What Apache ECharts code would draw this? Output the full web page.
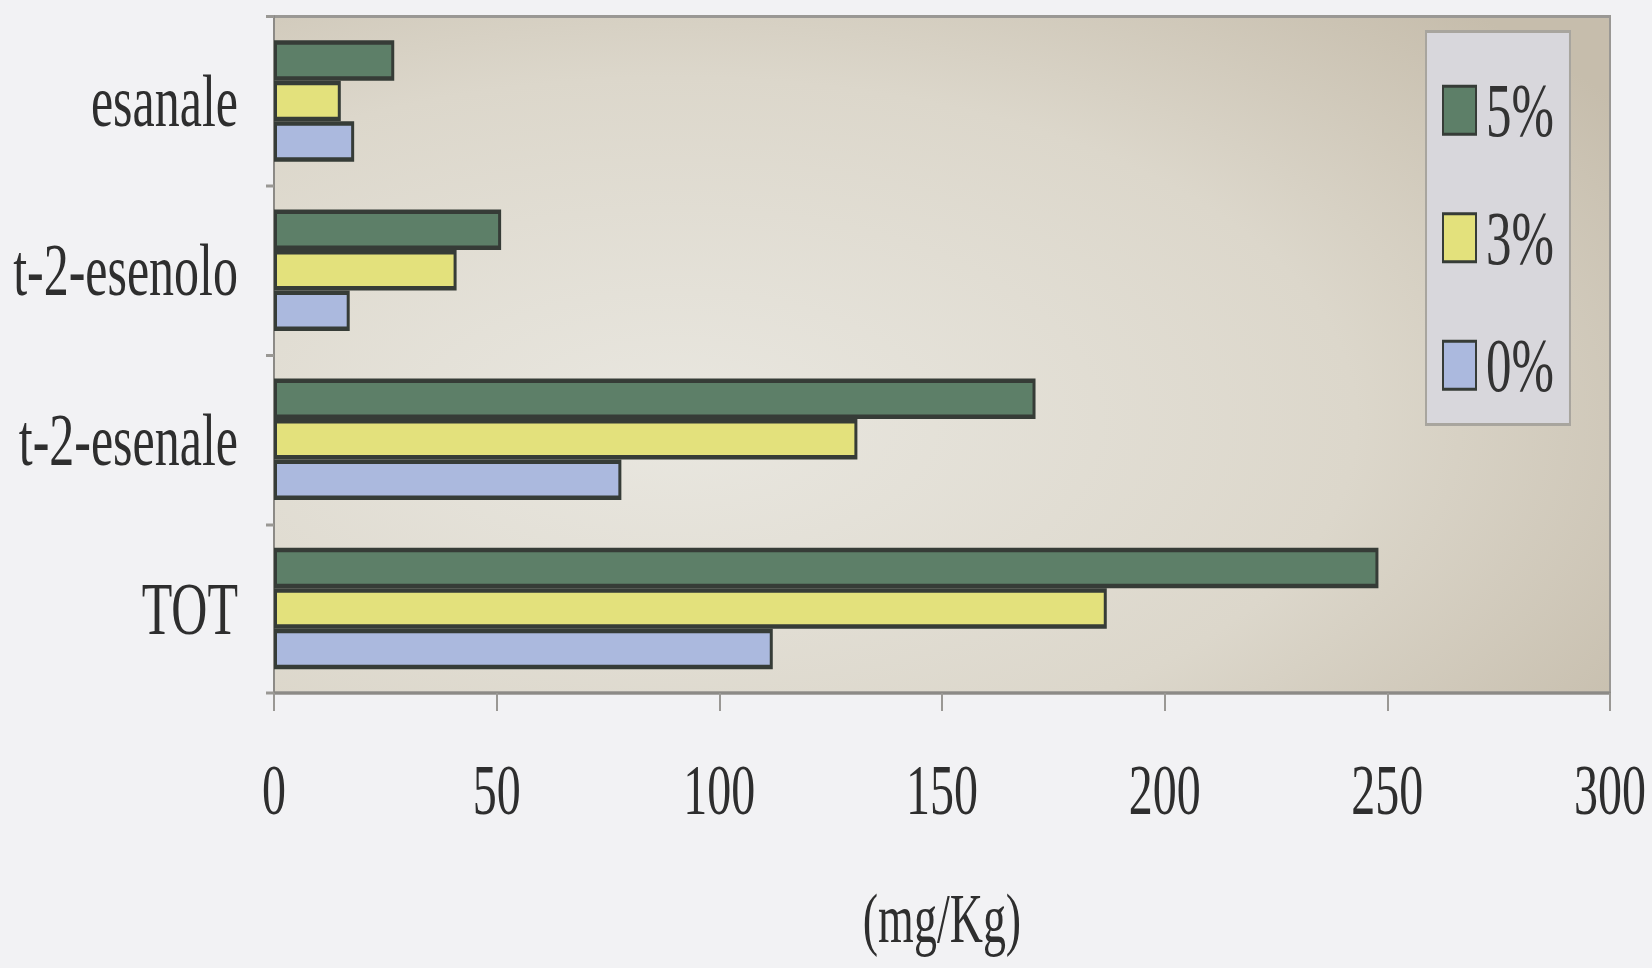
<!DOCTYPE html>
<html>
<head>
<meta charset="utf-8">
<script src="https://cdn.jsdelivr.net/npm/echarts@6/dist/echarts.min.js"></script>
<style>
    html { overflow: hidden; background: #f2f2f4; }
    body { margin: 0; padding: 0; height: 968px; background: #f2f2f4; }
    /* the original picture is stretched vertically, so the chart is drawn flat and scaled */
    #chart { width: 1652px; height: 645px; transform: scaleY(1.5); transform-origin: 0 0; }
</style>
</head>
<body>
<div id="chart"></div>
<script>
const categories = ['esanale', 't-2-esenolo', 't-2-esenale', 'TOT']
const seriesNames = ['5%', '3%', '0%']
const values5 = [27, 51, 171, 248]
const values3 = [15, 41, 131, 187]
const values0 = [18, 17, 78, 112]
const xTicks = [0, 300, 50]

const colors = ['#5d7f68', '#e3e17c', '#abb9de']
const font = 'Liberation Serif'

const chart = echarts.init(document.getElementById('chart'), null, { renderer: 'svg' })
const makeSeries = (name, data, color) => ({
    name,
    type: 'bar',
    data,
    barWidth: 27,
    barGap: '0%',
    itemStyle: { color, borderColor: '#363c37', borderWidth: 3 }
})

chart.setOption({
    backgroundColor: '#f2f2f4',
    animation: false,
    grid: {
        left: 274, right: 42, top: 11, bottom: 183,
        show: true,
        borderColor: '#9a9894',
        borderWidth: 2,
        backgroundColor: {
            type: 'radial', x: 0.3, y: 0.6, r: 0.85,
            colorStops: [
                { offset: 0, color: '#e9e7e0' },
                { offset: 0.6, color: '#dcd7cb' },
                { offset: 1, color: '#c6bdac' }
            ]
        }
    },
    legend: {
        orient: 'vertical',
        left: 1426,
        top: 21,
        data: seriesNames,
        icon: 'rect',
        itemWidth: 33,
        itemHeight: 32,
        itemGap: 34,
        padding: [27, 16, 14, 16],
        backgroundColor: '#d8d7dc',
        borderColor: '#a8a59e',
        borderWidth: 2,
        textStyle: { fontFamily: font, fontSize: 51, color: '#333', lineHeight: 50, padding: [0, 0, 0, 5] }
    },
    xAxis: {
        type: 'value',
        min: xTicks[0],
        max: xTicks[1],
        interval: xTicks[2],
        name: '(mg/Kg)',
        nameLocation: 'middle',
        nameGap: 128,
        nameTextStyle: { fontFamily: font, fontSize: 46, color: '#2e2e2e' },
        axisLine: { show: true, lineStyle: { color: '#8c8a86', width: 2 } },
        axisTick: { show: true, length: 12, lineStyle: { color: '#9a9894', width: 2 } },
        axisLabel: { fontFamily: font, fontSize: 48, color: '#2e2e2e', margin: 40 },
        splitLine: { show: false }
    },
    yAxis: {
        type: 'category',
        data: categories,
        inverse: true,
        axisLine: { show: true, lineStyle: { color: '#8c8a86', width: 2 } },
        axisTick: { show: true, length: 8, lineStyle: { color: '#9a9894', width: 2 } },
        axisLabel: { fontFamily: font, fontSize: 50, color: '#2e2e2e', margin: 36, padding: [0, 0, 22, 0] }
    },
    series: [
        makeSeries(seriesNames[0], values5, colors[0]),
        makeSeries(seriesNames[1], values3, colors[1]),
        makeSeries(seriesNames[2], values0, colors[2])
    ]
})
</script>
</body>
</html>
